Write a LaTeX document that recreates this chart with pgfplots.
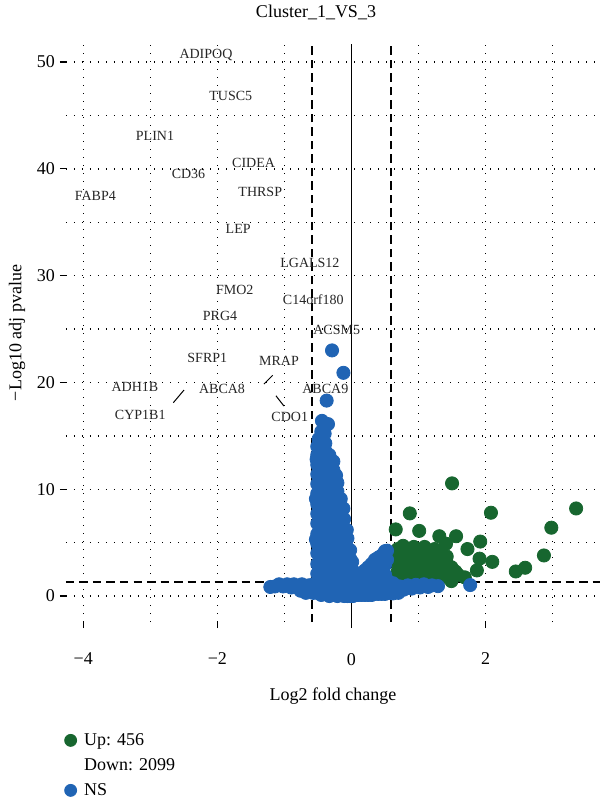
\documentclass[border=0pt]{standalone}
\usepackage{fontspec}
\setmainfont{Liberation Serif}
\usepackage{pgfplots}
\pgfplotsset{compat=1.18}
\usepackage{pgfplotstable}

\definecolor{upgreen}{HTML}{17662F}
\definecolor{nsblue}{HTML}{2064B4}

% labelled down-regulated genes: log2 fold change, -log10 adjusted p, name
\pgfplotstableread{
x y gene
-2.17 50.7 ADIPOQ
-1.80 46.8 TUSC5
-2.93 43.1 PLIN1
-1.46 40.6 CIDEA
-2.43 39.5 CD36
-3.82 37.5 FABP4
-1.36 37.8 THRSP
-1.69 34.4 LEP
-0.62 31.2 LGALS12
-1.74 28.7 FMO2
-0.57 27.8 C14orf180
-1.96 26.2 PRG4
-0.22 24.9 ACSM5
-2.15 22.3 SFRP1
-1.08 22.0 MRAP
-3.23 19.6 ADH1B
-1.93 19.35 ABCA8
-0.39 19.35 ABCA9
-3.15 17.0 CYP1B1
-0.92 16.8 CDO1
}\downlabels

\begin{document}
\begin{tikzpicture}
\useasboundingbox (-33pt,-90pt) rectangle (267pt,311pt);
\begin{axis}[
  at={(0pt,0pt)}, anchor=south west,
  scale only axis, width=267pt, height=289pt,
  xmin=-4.257, xmax=3.706, ymin=-2.43, ymax=51.69,
  axis line style={draw=none},
  tick pos=left, tick align=outside,
  major tick length=3pt, minor tick length=0pt,
  tick style={black, line width=0.6pt},
  xtick={-4,-2,0,2}, xticklabels={−4,−2,0,2},
  ytick={0,10,20,30,40,50},
  minor xtick={-3,-1,1,3}, minor ytick={5,15,25,35,45},
  grid=both,
  major grid style={black, line width=0.7pt, dash pattern=on 0.7pt off 3.3pt},
  minor grid style={black, line width=0.7pt, dash pattern=on 0.7pt off 3.3pt},
  ticklabel style={font=\fontsize{9}{10}\selectfont},
  xticklabel style={yshift=-9pt},
  yticklabel style={xshift=1pt},
  /pgf/number format/assume math mode=true,
  xlabel={Log2 fold change},
  ylabel={−Log10 adj pvalue},
  every axis x label/.style={at={(axis description cs:0.5,0)}, yshift=-37pt,
    anchor=center, font=\fontsize{9}{10}\selectfont},
  every axis y label/.style={at={(axis description cs:0,0.5)}, xshift=-24.5pt,
    rotate=90, anchor=center, font=\fontsize{9}{10}\selectfont},
  title={Cluster\_1\_VS\_3},
  every axis title/.style={at={(axis description cs:0,1)}, xshift=125pt, yshift=15.75pt,
    anchor=center, font=\fontsize{9}{10}\selectfont},
  legend style={at={(axis description cs:-0.004,-0.1825)}, anchor=north west,
    draw=none, fill=none, inner sep=0pt, font=\fontsize{9}{10}\selectfont,
    nodes={inner sep=1.75pt, text height=7pt, text depth=2pt},
    column sep=0pt, row sep=0pt},
  legend cell align=left,
]

% up-regulated genes
\addplot[only marks, mark=*, mark size=3.3pt, color=upgreen,
  mark options={draw=none, fill=upgreen}, forget plot] coordinates {
 (0.69,1.5)(0.69,2.3)(0.69,3.1)(0.69,3.9)(0.69,4.4)
 (0.77,1.5)(0.77,2.3)(0.77,3.1)(0.77,3.9)(0.77,4.7)
 (0.85,1.5)(0.85,2.3)(0.85,3.1)(0.85,3.9)(0.85,4.4)
 (0.93,1.5)(0.93,2.3)(0.93,3.1)(0.93,3.9)(0.93,4.6)
 (1.01,1.5)(1.01,2.3)(1.01,3.1)(1.01,3.9)(1.01,4.3)
 (1.09,1.5)(1.09,2.3)(1.09,3.1)(1.09,3.9)(1.09,4.6)
 (1.17,1.5)(1.17,2.3)(1.17,3.1)(1.17,3.8)(1.17,4.2)
 (1.25,1.6)(1.25,2.4)(1.25,3.2)(1.25,3.9)(1.24,4.4)
 (1.33,1.7)(1.33,2.5)(1.33,3.3)(1.33,3.9)
 (1.41,1.9)(1.41,2.6)(1.41,3.3)(1.42,3.7)
 (1.49,2.2)(1.49,2.7)(1.55,2.3)
 (1.50,10.55)(0.87,7.74)(2.08,7.8)(3.35,8.2)(0.66,6.24)(1.01,6.1)
 (1.56,5.6)(1.31,5.6)(1.41,4.9)(1.92,5.1)(2.98,6.4)(1.73,4.4)
 (1.91,3.5)(2.10,3.2)(2.87,3.8)(1.87,2.4)(2.45,2.3)(2.59,2.65)
 (1.59,2.0)(1.69,1.75)(1.49,1.4)
};

% not significant genes
\addplot[only marks, mark=*, mark size=3.3pt, color=nsblue,
  mark options={draw=none, fill=nsblue}, forget plot] coordinates {
 (-0.51,0.3)(-0.51,1.2)(-0.51,2.1)(-0.51,3.0)(-0.51,4.0)(-0.51,4.9)(-0.51,5.8)(-0.51,6.8)
 (-0.51,7.7)(-0.51,8.6)(-0.51,9.6)(-0.51,10.5)(-0.51,11.4)(-0.51,12.3)(-0.51,13.2)(-0.51,14.0)
 (-0.53,5.3)(-0.53,9.1)(-0.52,12.8)(-0.49,14.7)
 (-0.45,0.1)(-0.45,1.0)(-0.45,1.9)(-0.45,2.8)(-0.45,3.7)(-0.45,4.6)(-0.45,5.5)(-0.45,6.4)(-0.45,7.3)
 (-0.45,8.2)(-0.45,9.1)(-0.45,10.0)(-0.45,10.9)(-0.45,11.8)(-0.45,12.7)(-0.45,13.6)(-0.45,14.5)(-0.45,15.4)
 (-0.39,0.2)(-0.39,1.1)(-0.39,2.0)(-0.39,2.9)(-0.39,3.8)(-0.39,4.7)(-0.39,5.6)(-0.39,6.5)(-0.39,7.4)
 (-0.39,8.3)(-0.39,9.2)(-0.39,10.1)(-0.39,11.0)(-0.39,11.9)(-0.39,12.8)(-0.39,13.6)(-0.39,14.3)
 (-0.44,16.4)(-0.35,16.1)(-0.40,15.2)
 (-0.33,0.0)(-0.33,0.9)(-0.33,1.8)(-0.33,2.7)(-0.33,3.6)(-0.33,4.5)(-0.33,5.4)(-0.33,6.3)
 (-0.33,7.2)(-0.33,8.1)(-0.33,9.0)(-0.33,9.9)(-0.33,10.8)(-0.33,11.7)(-0.33,12.5)(-0.33,13.2)
 (-0.27,0.1)(-0.27,1.0)(-0.27,1.9)(-0.27,2.8)(-0.27,3.7)(-0.27,4.6)(-0.27,5.5)(-0.27,6.4)
 (-0.27,7.3)(-0.27,8.2)(-0.27,9.1)(-0.27,10.0)(-0.27,10.9)(-0.27,11.8)(-0.27,12.6)
 (-0.21,0.0)(-0.21,0.9)(-0.21,1.8)(-0.21,2.7)(-0.21,3.6)(-0.21,4.5)(-0.21,5.4)(-0.21,6.3)
 (-0.21,7.2)(-0.21,8.1)(-0.21,9.0)(-0.21,9.8)(-0.21,10.6)(-0.23,11.3)
 (-0.16,0.1)(-0.16,1.0)(-0.16,1.9)(-0.16,2.8)(-0.16,3.7)(-0.16,4.6)(-0.16,5.5)(-0.16,6.4)
 (-0.16,7.3)(-0.16,8.2)(-0.16,9.1)
 (-0.11,0.0)(-0.11,0.9)(-0.11,1.8)(-0.11,2.7)(-0.11,3.6)(-0.11,4.5)(-0.11,5.4)(-0.11,6.3)
 (-0.11,7.2)(-0.12,8.2)
 (-0.06,0.0)(-0.06,0.9)(-0.06,1.8)(-0.06,2.7)(-0.06,3.6)(-0.06,4.5)(-0.06,5.4)(-0.07,6.2)
 (-0.02,0.0)(-0.02,0.9)(-0.02,1.8)(-0.02,2.7)(-0.02,3.5)(-0.02,4.3)
 (0.02,0.0)(0.02,0.8)(0.02,1.6)(0.02,2.4)(0.01,3.2)
 (0.06,0.1)(0.06,0.9)(0.06,1.6)
 (0.10,0.1)(0.10,0.9)(0.10,1.7)
 (0.15,0.1)(0.15,1.0)(0.15,1.9)
 (0.20,0.1)(0.20,1.0)(0.20,1.9)(0.20,2.4)
 (0.25,0.1)(0.25,1.0)(0.25,1.9)(0.25,2.7)
 (0.30,0.1)(0.30,1.0)(0.30,1.9)(0.30,3.0)
 (0.35,0.2)(0.35,1.0)(0.35,1.9)(0.35,2.7)(0.35,3.4)
 (0.40,0.2)(0.40,1.1)(0.40,2.0)(0.40,2.9)(0.40,3.6)
 (0.45,0.2)(0.45,1.1)(0.45,2.0)(0.45,2.9)(0.45,3.8)
 (0.50,0.2)(0.50,1.1)(0.50,2.0)(0.50,2.9)(0.50,3.8)(0.50,4.2)
 (0.53,1.5)(0.53,3.4)(0.53,4.25)
 (-0.57,0.3)(-0.57,1.1)(-0.62,0.5)(-0.64,1.0)(-0.70,0.7)(-0.74,1.1)(-0.80,0.8)(-0.86,1.1)
 (-0.90,0.8)(-0.96,1.1)(-1.02,0.9)(-1.08,1.1)(-1.14,0.9)(-1.21,0.85)(-0.68,0.3)(-0.76,0.5)
 (0.56,0.3)(0.60,0.8)(0.62,1.2)(0.66,0.4)(0.72,0.9)(0.78,0.6)(0.84,1.0)(0.90,0.7)(0.96,1.05)
 (1.02,0.8)(1.08,1.1)(1.14,0.85)(1.20,1.0)(1.29,0.93)(1.77,1.03)(0.70,0.3)(0.62,0.25)
 (-0.29,23.0)(-0.12,20.9)(-0.37,18.3)
};

% names of the labelled down-regulated genes
\addplot[only marks, mark=none, forget plot,
  nodes near coords, point meta=explicit symbolic,
  every node near coord/.append style={anchor=center, inner sep=0pt,
    font=\fontsize{7}{8}\selectfont, text=black!85}]
  table[x=x, y=y, meta=gene] {\downlabels};

% leader segments of repelled labels
\addplot[black, line width=0.5pt, forget plot] coordinates {(-2.657,18.10) (-2.497,19.29)};
\addplot[black, line width=0.5pt, forget plot] coordinates {(-1.305,19.85) (-1.175,20.67)};
\addplot[black, line width=0.5pt, forget plot] coordinates {(-1.126,18.75) (-1.007,17.79)};

% threshold lines
\addplot[black, line width=0.6pt, forget plot] coordinates {(0,-2.43) (0,51.69)};
\addplot[black, line width=0.8pt, dash pattern=on 4.25pt off 2.5pt, forget plot]
  coordinates {(-0.585,-2.43) (-0.585,51.69)};
\addplot[black, line width=0.8pt, dash pattern=on 4.25pt off 2.5pt, forget plot]
  coordinates {(0.585,-2.43) (0.585,51.69)};
\addplot[black, line width=0.8pt, dash pattern=on 4.25pt off 2.5pt, forget plot]
  coordinates {(-4.257,1.301) (3.706,1.301)};

% legend
\addlegendimage{legend image code/.code={\path[draw=none,fill=none] (0pt,-3pt) rectangle (8pt,3pt);
  \fill[upgreen] (3pt,0pt) circle[radius=3pt];}}
\addlegendentry{Up: 456}
\addlegendimage{legend image code/.code={\path[draw=none,fill=none] (0pt,-3pt) rectangle (8pt,3pt);}}
\addlegendentry{Down: 2099}
\addlegendimage{legend image code/.code={\path[draw=none,fill=none] (0pt,-3pt) rectangle (8pt,3pt);
  \fill[nsblue] (3pt,0pt) circle[radius=3pt];}}
\addlegendentry{NS}
\end{axis}
\end{tikzpicture}
\end{document}
